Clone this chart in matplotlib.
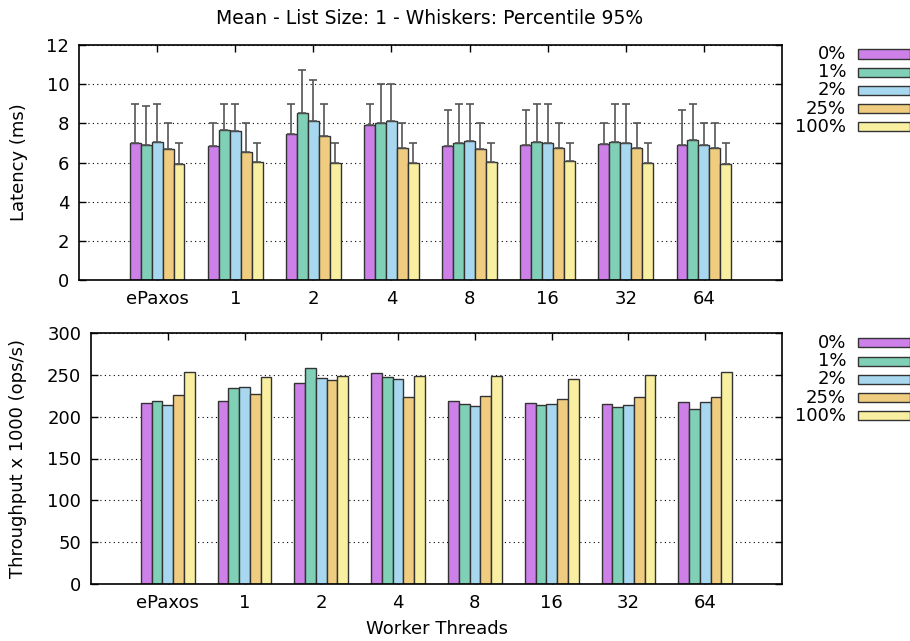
import numpy as np
import matplotlib
matplotlib.use('Agg')
import matplotlib.pyplot as plt
from matplotlib.patches import Rectangle

plt.rcParams['font.family'] = 'DejaVu Sans'
plt.rcParams['font.size'] = 13

threads = ['ePaxos', '1', '2', '4', '8', '16', '32', '64']
series = ['0%', '1%', '2%', '25%', '100%']
colors = ['#cc80e8', '#80d0b8', '#a8d8f0', '#f0cc80', '#f8f0a0']

# mean latency (ms), one list per series
lat_0 = [7.00, 6.85, 7.46, 7.91, 6.86, 6.91, 6.95, 6.91]
lat_1 = [6.90, 7.66, 8.51, 8.03, 6.98, 7.03, 7.05, 7.15]
lat_2 = [7.07, 7.63, 8.12, 8.13, 7.08, 7.00, 7.02, 6.91]
lat_25 = [6.71, 6.56, 7.36, 6.73, 6.68, 6.76, 6.73, 6.73]
lat_100 = [5.93, 6.03, 6.00, 6.00, 6.02, 6.08, 5.98, 5.90]

# 95th percentile latency (ms)
p95_0 = [9.0, 8.0, 9.0, 9.0, 8.68, 8.68, 8.0, 8.68]
p95_1 = [8.88, 9.0, 10.71, 10.0, 9.0, 9.0, 9.0, 9.0]
p95_2 = [9.0, 9.0, 10.22, 10.0, 9.0, 9.0, 9.0, 8.0]
p95_25 = [8.0, 8.0, 9.0, 8.0, 8.0, 8.0, 8.0, 8.0]
p95_100 = [7.0, 7.0, 7.0, 7.0, 7.0, 7.0, 7.0, 7.0]

# throughput x 1000 (ops/s)
thr_0 = [216.0, 219.2, 240.0, 251.7, 218.4, 216.8, 215.6, 217.2]
thr_1 = [219.2, 234.0, 257.7, 247.2, 215.2, 213.6, 212.0, 209.6]
thr_2 = [213.6, 235.6, 245.7, 244.8, 212.4, 214.8, 213.6, 218.0]
thr_25 = [225.6, 227.6, 243.6, 223.2, 224.4, 221.6, 223.2, 223.6]
thr_100 = [253.2, 248.0, 249.2, 249.2, 248.8, 245.6, 249.6, 253.2]

lat = [lat_0, lat_1, lat_2, lat_25, lat_100]
p95 = [p95_0, p95_1, p95_2, p95_25, p95_100]
thr = [thr_0, thr_1, thr_2, thr_25, thr_100]

W, H = 910, 641
fig = plt.figure(figsize=(W / 100, H / 100), dpi=100)


def px_axes(l, t, r, b):
    return fig.add_axes([l / W, 1 - b / H, (r - l) / W, (b - t) / H])


ax1 = px_axes(79, 45, 782, 280)
ax2 = px_axes(91, 333, 782, 584)

x = np.arange(len(threads))
bw = 0.14


def draw(ax, values, errs=None):
    for i, (vals, c) in enumerate(zip(values, colors)):
        pos = x + (i - 2) * bw
        ax.bar(pos, vals, width=bw, color=c, edgecolor='#333333',
               linewidth=1.0, zorder=2)
        if errs is not None:
            up = np.array(errs[i]) - np.array(vals)
            ax.errorbar(pos, vals, yerr=[np.zeros_like(up), up], fmt='none',
                        ecolor='#555555', elinewidth=1.2, capsize=3,
                        capthick=1.2, zorder=3)
    ax.set_xlim(-1, 8)
    ax.set_xticks(x)
    ax.set_xticklabels(threads)
    ax.grid(axis='y', linestyle=(0, (1, 3)), color='black', linewidth=0.8,
            zorder=0)
    ax.set_axisbelow(True)
    ax.tick_params(direction='in', top=True, right=True, length=5,
                   width=1, labelsize=13, pad=7)
    for sp in ax.spines.values():
        sp.set_linewidth(1.2)


draw(ax1, lat, p95)
ax1.set_ylim(0, 12)
ax1.set_yticks(range(0, 13, 2))
ax1.set_ylabel('Latency (ms)')
ax1.yaxis.set_label_coords(-0.0725, 0.5)

draw(ax2, thr)
ax2.set_ylim(0, 300)
ax2.set_yticks(range(0, 301, 50))
ax2.set_ylabel('Throughput x 1000 (ops/s)')
ax2.yaxis.set_label_coords(-0.0926, 0.5)
ax2.set_xlabel('Worker Threads', labelpad=6)

fig.text(430 / W, 1 - 18 / H, 'Mean - List Size: 1 - Whiskers: Percentile 95%',
         ha='center', va='center', fontsize=13.5)


# key outside the plots: right-aligned label followed by a sample box
def key(top_px):
    for i, (lab, c) in enumerate(zip(series, colors)):
        yc = top_px + i * 18.2
        fig.text(846 / W, 1 - yc / H, lab, ha='right', va='center',
                 fontsize=13)
        fig.patches.append(Rectangle((858 / W, 1 - (yc + 4.5) / H),
                                     52 / W, 9 / H, facecolor=c,
                                     edgecolor='#333333', linewidth=1.0,
                                     transform=fig.transFigure))


key(54)
key(343)

fig.savefig('out.png', dpi=100)
